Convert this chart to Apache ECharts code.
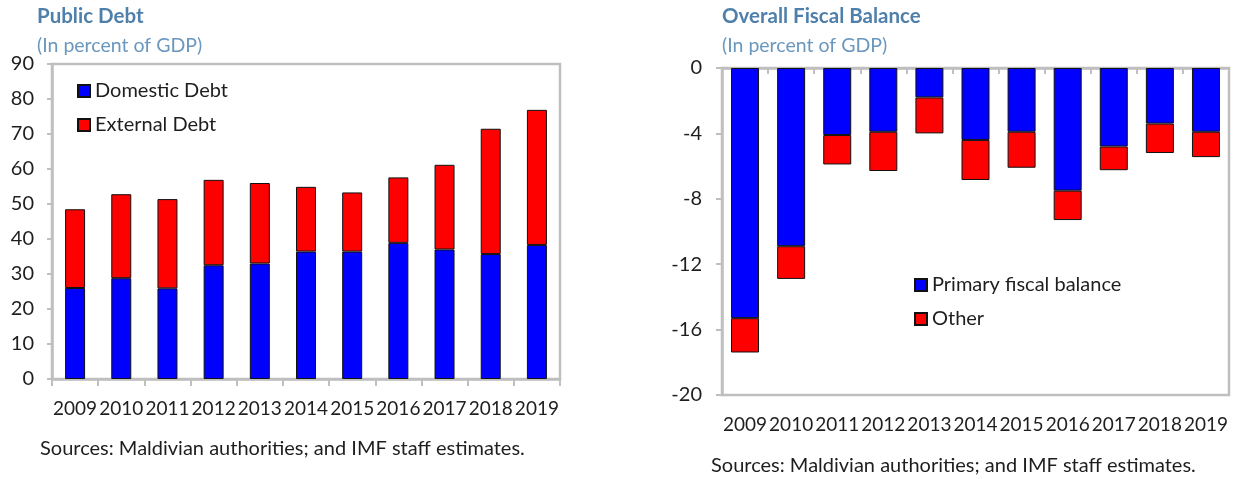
<!DOCTYPE html>
<html>
<head>
<meta charset="utf-8">
<script src="https://cdn.jsdelivr.net/npm/echarts@6/dist/echarts.min.js"></script>
<style>
html,body{margin:0;padding:0;background:#fff;}
#c{width:1237px;height:479px;}
</style>
</head>
<body>
<div id="c"></div>
<script>
// ---- Data ----
var years = ['2009','2010','2011','2012','2013','2014','2015','2016','2017','2018','2019'];
// Public Debt (percent of GDP)
var domesticDebt = [26.0, 28.8, 25.9, 32.5, 33.0, 36.4, 36.4, 38.9, 37.0, 35.7, 38.3];
var externalDebt = [22.5, 24.0, 25.5, 24.4, 23.0, 18.5, 16.9, 18.7, 24.2, 35.8, 38.6];
// Overall Fiscal Balance (percent of GDP)
var primaryBalance = [-15.3, -10.9, -4.1, -3.9, -1.8, -4.4, -3.9, -7.5, -4.8, -3.4, -3.9];
var otherBalance = [-2.1, -2.0, -1.8, -2.4, -2.2, -2.45, -2.2, -1.8, -1.45, -1.8, -1.55];
var debtTicks = {min: 0, max: 90, interval: 10};
var balanceTicks = {min: -20, max: 0, interval: 4};

var FONT = 'Lato, "Open Sans", sans-serif';
var GRAY = '#bfbfbf';
var TXT = '#1e1e1e';
var BLUE = '#0000ff';
var RED = '#ff0000';

var chart = echarts.init(document.getElementById('c'), null, {renderer: 'canvas'});

var titleStyle = {fontFamily: FONT, fontSize: 20.5, fontWeight: 'bold', color: '#4f80ab'};
var subStyle = {fontFamily: FONT, fontSize: 19.5, fontWeight: 'normal', color: '#6a97be'};
var srcStyle = {fontFamily: FONT, fontSize: 20, fontWeight: 'normal', color: TXT};

chart.setOption({
  animation: false,
  backgroundColor: '#fff',
  title: [
    {text: 'Public Debt', left: 37, top: 6, padding: 0, textStyle: titleStyle},
    {text: '(In percent of GDP)', left: 37, top: 36, padding: 0, textStyle: subStyle},
    {text: 'Sources: Maldivian authorities; and IMF staff estimates.', left: 40, top: 439, padding: 0, textStyle: srcStyle},
    {text: 'Overall Fiscal Balance', left: 722, top: 6, padding: 0, textStyle: titleStyle},
    {text: '(In percent of GDP)', left: 722, top: 36, padding: 0, textStyle: subStyle},
    {text: 'Sources: Maldivian authorities; and IMF staff estimates.', left: 711, top: 456, padding: 0, textStyle: srcStyle}
  ],
  legend: [
    {
      data: ['Domestic Debt', 'External Debt'],
      orient: 'vertical', left: 77, top: 81, padding: 0,
      itemWidth: 12, itemHeight: 12, itemGap: 14,
      icon: 'rect',
      textStyle: {fontFamily: FONT, fontSize: 20, color: TXT, lineHeight: 18}
    },
    {
      data: ['Primary fiscal balance', 'Other'],
      orient: 'vertical', left: 914, top: 275, padding: 0,
      itemWidth: 12, itemHeight: 12, itemGap: 14,
      icon: 'rect',
      textStyle: {fontFamily: FONT, fontSize: 20, color: TXT, lineHeight: 18}
    }
  ],
  grid: [
    {left: 52, top: 64, width: 508, height: 315, show: true, borderColor: GRAY, borderWidth: 2.5, backgroundColor: 'transparent'},
    {left: 722, top: 68, width: 507, height: 327, show: true, borderColor: GRAY, borderWidth: 2.5, backgroundColor: 'transparent'}
  ],
  xAxis: [
    {
      type: 'category', gridIndex: 0, data: years, position: 'bottom',
      axisLine: {show: true, lineStyle: {color: GRAY, width: 2.5}},
      axisTick: {show: true, length: 7, lineStyle: {color: GRAY, width: 2}},
      axisLabel: {fontFamily: FONT, fontSize: 19, color: TXT, margin: 20, interval: 0}
    },
    {
      type: 'category', gridIndex: 1, data: years, position: 'top',
      axisLine: {show: true, lineStyle: {color: GRAY, width: 2.5}},
      axisTick: {show: true, inside: true, length: 6, lineStyle: {color: GRAY, width: 2}},
      axisLabel: {show: false}
    },
    {
      type: 'category', gridIndex: 1, data: years, position: 'bottom',
      axisLine: {show: false}, axisTick: {show: false},
      axisLabel: {fontFamily: FONT, fontSize: 19, color: TXT, margin: 20, interval: 0}
    }
  ],
  yAxis: [
    {
      type: 'value', gridIndex: 0, min: debtTicks.min, max: debtTicks.max, interval: debtTicks.interval,
      splitLine: {show: false},
      axisLine: {show: true, lineStyle: {color: GRAY, width: 2.5}},
      axisTick: {show: true, length: 5, lineStyle: {color: GRAY, width: 2}},
      axisLabel: {fontFamily: FONT, fontSize: 20, color: TXT, margin: 18}
    },
    {
      type: 'value', gridIndex: 1, min: balanceTicks.min, max: balanceTicks.max, interval: balanceTicks.interval,
      splitLine: {show: false},
      axisLine: {show: true, lineStyle: {color: GRAY, width: 2.5}},
      axisTick: {show: true, length: 6, lineStyle: {color: GRAY, width: 2}},
      axisLabel: {fontFamily: FONT, fontSize: 20, color: TXT, margin: 20}
    }
  ],
  series: [
    {
      name: 'Domestic Debt', type: 'bar', stack: 'debt', xAxisIndex: 0, yAxisIndex: 0,
      data: domesticDebt, barWidth: 20,
      itemStyle: {color: BLUE, borderColor: '#111', borderWidth: 1}
    },
    {
      name: 'External Debt', type: 'bar', stack: 'debt', xAxisIndex: 0, yAxisIndex: 0,
      data: externalDebt, barWidth: 20,
      itemStyle: {color: RED, borderColor: '#111', borderWidth: 1}
    },
    {
      name: 'Primary fiscal balance', type: 'bar', stack: 'bal', xAxisIndex: 1, yAxisIndex: 1,
      data: primaryBalance, barWidth: 28,
      itemStyle: {color: BLUE, borderColor: '#111', borderWidth: 1}
    },
    {
      name: 'Other', type: 'bar', stack: 'bal', xAxisIndex: 1, yAxisIndex: 1,
      data: otherBalance, barWidth: 28,
      itemStyle: {color: RED, borderColor: '#111', borderWidth: 1}
    }
  ]
});
</script>
</body>
</html>
